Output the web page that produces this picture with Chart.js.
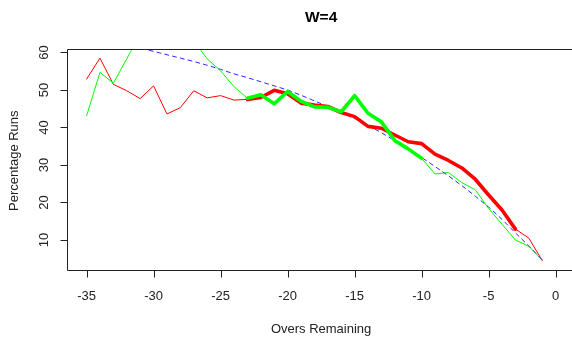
<!DOCTYPE html>
<html>
<head>
<meta charset="utf-8">
<script src="https://cdn.jsdelivr.net/npm/chart.js@4/dist/chart.umd.min.js"></script>
<style>
  html, body { margin: 0; padding: 0; background: #fff; overflow: hidden; }
  #wrap { width: 572px; height: 338px; overflow: hidden; }
  canvas { display: block; }
</style>
</head>
<body>
<div id="wrap"><canvas id="c" width="580" height="338"></canvas></div>
<script>
// Overs remaining (x) for every series
const overs = [-35,-34,-33,-32,-31,-30,-29,-28,-27,-26,-25,-24,-23,-22,-21,-20,-19,-18,
               -17,-16,-15,-14,-13,-12,-11,-10,-9,-8,-7,-6,-5,-4,-3,-2,-1];

// Percentage of runs still to come, observed (red)
const redRuns = [52.9,58.5,51.5,49.8,47.7,51.1,43.6,45.3,49.8,47.9,48.5,47.3,47.5,48.0,
                 49.9,49.0,46.5,46.0,45.6,44.0,42.9,40.3,39.8,38.0,36.2,35.7,32.9,31.2,
                 29.2,26.2,22.0,18.0,12.9,10.5,4.5];

// Percentage of runs still to come, second set (green)
const greenRuns = [43.1,54.7,51.8,58.3,65.0,68.0,69.0,67.0,63.2,58.3,55.1,50.9,47.8,48.7,
                   46.3,49.6,47.0,45.5,45.4,44.2,48.5,43.8,41.5,36.5,34.3,31.8,27.6,28.0,
                   25.3,23.4,18.4,14.2,10.0,8.3,4.7];

// Fitted resource curve (blue, dashed)
const fitRuns = [63.8,63.0,62.2,61.4,61.2,60.3,59.4,58.5,57.6,56.6,55.5,54.3,53.3,52.2,
                 51.1,50.0,48.6,47.1,45.6,44.0,42.4,40.6,38.6,36.5,34.3,32.0,29.6,27.1,
                 24.5,21.7,18.8,15.5,11.9,8.4,4.7];

// Over ranges drawn with a heavy stroke
const redHeavy = [-23, -3];
const greenHeavy = [-23, -10];

// Axis ticks
const xTicks = [-35,-30,-25,-20,-15,-10,-5,0];
const yTicks = [10,20,30,40,50,60];

const pts = (vals, range) => overs
  .map((o, i) => ({ x: o, y: vals[i] }))
  .filter(p => !range || (p.x >= range[0] && p.x <= range[1]));

const line = (data, color, width, order, dash) => ({
  data, borderColor: color, borderWidth: width, order,
  borderDash: dash || [], pointRadius: 0, tension: 0, fill: false,
  borderJoinStyle: 'round', borderCapStyle: 'round', clip: 0
});

// Base-graphics style frame: box, outward ticks, rotated y labels, titles
const frame = {
  id: 'frame',
  afterDatasetsDraw(chart) {
    const { ctx, chartArea: a, scales: { x, y } } = chart;
    ctx.save();
    ctx.strokeStyle = '#222';
    ctx.lineWidth = 1;
    const L = Math.floor(a.left) + 0.5, T = Math.floor(a.top) + 0.5,
          B = Math.floor(a.bottom) + 0.5, R = a.right;
    ctx.beginPath();
    ctx.moveTo(R, T); ctx.lineTo(L, T); ctx.lineTo(L, B); ctx.lineTo(R, B);
    ctx.stroke();

    ctx.fillStyle = '#222';
    ctx.font = '13px "Liberation Sans", Arial, sans-serif';
    // x ticks
    ctx.textAlign = 'center';
    ctx.textBaseline = 'alphabetic';
    xTicks.forEach(v => {
      const px = Math.round(x.getPixelForValue(v)) + 0.5;
      ctx.beginPath(); ctx.moveTo(px, B); ctx.lineTo(px, B + 7); ctx.stroke();
      ctx.fillText(String(v), x.getPixelForValue(v), 300);
    });
    // y ticks
    yTicks.forEach(v => {
      const py = Math.round(y.getPixelForValue(v)) + 0.5;
      ctx.beginPath(); ctx.moveTo(L, py); ctx.lineTo(L - 7, py); ctx.stroke();
      ctx.save();
      ctx.translate(48.3, y.getPixelForValue(v));
      ctx.rotate(-Math.PI / 2);
      ctx.fillText(String(v), 0, 0);
      ctx.restore();
    });
    // axis titles
    const cx = (a.left + a.right) / 2;
    ctx.fillText('Overs Remaining', cx, 333);
    ctx.save();
    ctx.translate(18.3, (a.top + a.bottom) / 2 + 1);
    ctx.rotate(-Math.PI / 2);
    ctx.fillText('Percentage Runs', 0, 0);
    ctx.restore();
    // main title
    ctx.fillStyle = '#000';
    ctx.font = 'bold 15.5px "Liberation Sans", Arial, sans-serif';
    ctx.textBaseline = 'middle';
    ctx.fillText('W=4', cx, 18);
    ctx.restore();
  }
};

new Chart(document.getElementById('c'), {
  type: 'scatter',
  data: {
    datasets: [
      line(pts(greenRuns, greenHeavy), '#00ff00', 3.6, 0),
      line(pts(redRuns, redHeavy), '#ff0000', 3.6, 1),
      line(pts(fitRuns), '#2a2aff', 1, 2, [4, 4]),
      line(pts(greenRuns), '#00ff00', 1, 3),
      line(pts(redRuns), '#ff0000', 1, 4)
    ].map(d => Object.assign(d, { showLine: true }))
  },
  options: {
    responsive: false,
    devicePixelRatio: 1,
    animation: false,
    layout: { padding: { left: 67.8, right: 5.6, top: 49.3, bottom: 68 } },
    scales: {
      x: { type: 'linear', min: -36.4, max: 1.4, display: false },
      y: { type: 'linear', min: 2.0, max: 60.85, display: false }
    },
    plugins: { legend: { display: false }, tooltip: { enabled: false }, title: { display: false } }
  },
  plugins: [frame]
});
</script>
</body>
</html>
